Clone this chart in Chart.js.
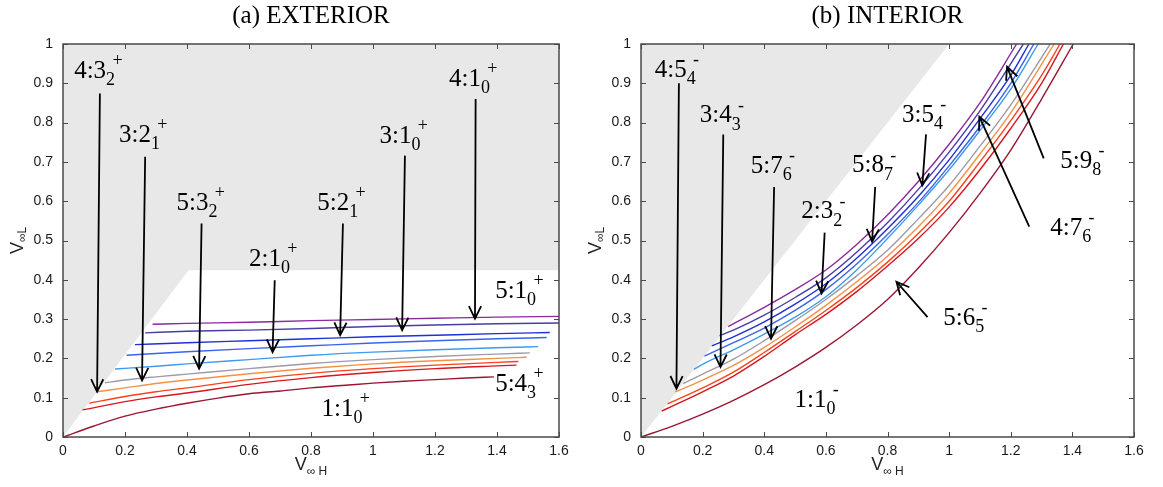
<!DOCTYPE html>
<html>
<head>
<meta charset="utf-8">
<script src="https://cdn.jsdelivr.net/npm/chart.js@4.4.1/dist/chart.umd.min.js"></script>
<style>
  html, body { margin: 0; padding: 0; background: #fff; }
  #wrap { position: relative; width: 1163px; height: 487px; }
  .panel { position: absolute; top: 0; }
</style>
</head>
<body>
<div id="wrap">
  <canvas id="chartExt" class="panel" style="left:0" width="580" height="487"></canvas>
  <canvas id="chartInt" class="panel" style="left:580px" width="583" height="487"></canvas>
</div>
<script>
// colours, top curve (purple) down to 1:1 (dark red)
const curveColors = ['#8a2a9c', '#4a3da8', '#1f2fd6', '#3a64ec', '#3d9bf0',
                     '#9d9aab', '#f39246', '#f8431d', '#d8161f', '#9a1632'];

// (a) exterior, [V∞H, V∞L]
const extPurple = [[0.289,0.287],[0.4,0.289],[0.6,0.292],[0.8,0.296],[1.0,0.299],[1.2,0.302],[1.4,0.305],[1.6,0.307]];
const extNavy   = [[0.265,0.265],[0.4,0.269],[0.6,0.272],[0.8,0.276],[1.0,0.281],[1.2,0.285],[1.4,0.288],[1.6,0.290]];
const extBlue   = [[0.232,0.235],[0.4,0.240],[0.6,0.245],[0.8,0.250],[1.0,0.255],[1.2,0.259],[1.4,0.263],[1.57,0.266]];
const extMid    = [[0.205,0.208],[0.4,0.217],[0.6,0.225],[0.8,0.232],[1.0,0.239],[1.2,0.245],[1.4,0.250],[1.56,0.253]];
const extLight  = [[0.168,0.173],[0.3,0.180],[0.4,0.186],[0.6,0.197],[0.8,0.208],[1.0,0.216],[1.2,0.222],[1.4,0.227],[1.533,0.230]];
const extGray   = [[0.135,0.138],[0.2,0.145],[0.3,0.153],[0.4,0.160],[0.6,0.174],[0.8,0.187],[1.0,0.197],[1.2,0.205],[1.4,0.211],[1.506,0.214]];
const extOrange = [[0.109,0.115],[0.2,0.125],[0.3,0.136],[0.4,0.145],[0.6,0.161],[0.8,0.175],[1.0,0.186],[1.2,0.194],[1.4,0.200],[1.496,0.203]];
const extRedOr  = [[0.085,0.086],[0.2,0.103],[0.3,0.115],[0.4,0.125],[0.6,0.146],[0.8,0.162],[1.0,0.174],[1.2,0.183],[1.4,0.190],[1.469,0.192]];
const extRed    = [[0.063,0.069],[0.2,0.090],[0.3,0.102],[0.4,0.112],[0.6,0.134],[0.8,0.151],[1.0,0.164],[1.2,0.174],[1.4,0.181],[1.463,0.183]];
const extDark   = [[0,0],[0.1,0.028],[0.2,0.053],[0.3,0.071],[0.4,0.086],[0.5,0.099],[0.6,0.110],[0.7,0.117],[0.8,0.125],
                   [0.9,0.131],[1.0,0.137],[1.1,0.142],[1.2,0.146],[1.3,0.150],[1.39,0.153]];
const extShade  = [[0,0],[0.405,0.424],[1.6,0.424]];

// (b) interior
const intPurple = [[0.283,0.281],[0.4,0.330],[0.5,0.375],[0.6,0.425],[0.7,0.490],[0.8,0.565],[0.9,0.650],[1.0,0.745],[1.1,0.850],[1.219,1.0]];
const intNavy   = [[0.255,0.258],[0.3,0.272],[0.4,0.310],[0.5,0.355],[0.6,0.405],[0.7,0.470],[0.8,0.545],[0.9,0.630],[1.0,0.725],[1.1,0.830],[1.241,1.0]];
const intBlue   = [[0.230,0.232],[0.3,0.255],[0.4,0.293],[0.5,0.338],[0.6,0.390],[0.7,0.455],[0.8,0.530],[0.9,0.612],[1.0,0.705],[1.1,0.810],[1.2,0.920],[1.259,1.0]];
const intMid    = [[0.206,0.206],[0.3,0.240],[0.4,0.277],[0.5,0.322],[0.6,0.375],[0.7,0.440],[0.8,0.515],[0.9,0.597],[1.0,0.690],[1.1,0.790],[1.2,0.900],[1.275,1.0]];
const intLight  = [[0.172,0.172],[0.2,0.185],[0.3,0.222],[0.4,0.262],[0.5,0.305],[0.6,0.357],[0.7,0.425],[0.8,0.505],[0.9,0.590],[1.0,0.680],[1.1,0.780],[1.2,0.885],[1.289,1.0]];
const intGray   = [[0.137,0.136],[0.2,0.160],[0.3,0.198],[0.4,0.245],[0.5,0.296],[0.6,0.350],[0.7,0.410],[0.8,0.475],[0.9,0.555],[1.0,0.640],[1.1,0.740],[1.2,0.845],[1.328,1.0]];
const intOrange = [[0.110,0.114],[0.2,0.145],[0.3,0.182],[0.4,0.228],[0.5,0.280],[0.6,0.335],[0.7,0.395],[0.8,0.460],[0.9,0.535],[1.0,0.620],[1.1,0.720],[1.2,0.825],[1.341,1.0]];
const intRedOr  = [[0.086,0.084],[0.2,0.125],[0.3,0.165],[0.4,0.215],[0.5,0.268],[0.6,0.322],[0.7,0.380],[0.8,0.445],[0.9,0.518],[1.0,0.600],[1.1,0.700],[1.2,0.805],[1.3,0.920],[1.36,1.0]];
const intRed    = [[0.067,0.066],[0.1,0.078],[0.2,0.115],[0.3,0.155],[0.4,0.205],[0.5,0.260],[0.6,0.312],[0.7,0.370],[0.8,0.435],[0.9,0.505],[1.0,0.585],[1.1,0.680],[1.2,0.785],[1.3,0.900],[1.371,1.0]];
const intDark   = [[0,0],[0.1,0.027],[0.2,0.058],[0.3,0.093],[0.4,0.133],[0.5,0.178],[0.6,0.228],[0.7,0.285],[0.8,0.350],
                   [0.9,0.430],[1.0,0.520],[1.1,0.620],[1.2,0.730],[1.3,0.860],[1.403,1.0]];
const intShade  = [[0,0],[1.0,1.0]];

// labels: [main, sub, sup, x, y]   arrows: [x1, y1, x2, y2]
const extLabels = [['4:3','2','+',0.036,0.93],['3:2','1','+',0.181,0.768],['5:3','2','+',0.366,0.594],
                   ['2:1','0','+',0.60,0.452],['5:2','1','+',0.82,0.594],['3:1','0','+',1.021,0.766],
                   ['4:1','0','+',1.245,0.911],['5:1','0','+',1.394,0.371],['5:4','3','+',1.394,0.134],
                   ['1:1','0','+',0.834,0.07]];
const extArrows = [[0.119,0.874,0.110,0.115],[0.265,0.713,0.255,0.144],[0.447,0.543,0.439,0.174],
                   [0.683,0.399,0.676,0.216],[0.903,0.543,0.894,0.259],[1.103,0.716,1.094,0.272],
                   [1.331,0.860,1.329,0.301]];
const intLabels = [['4:5','4','-',0.045,0.932],['3:4','3','-',0.191,0.817],['5:7','6','-',0.356,0.688],
                   ['2:3','2','-',0.52,0.573],['5:8','7','-',0.685,0.69],['3:5','4','-',0.847,0.819],
                   ['5:9','8','-',1.361,0.702],['4:7','6','-',1.328,0.53],['5:6','5','-',0.981,0.301],
                   ['1:1','0','-',0.498,0.093]];
const intArrows = [[0.123,0.900,0.115,0.123],[0.267,0.770,0.258,0.178],[0.432,0.636,0.422,0.250],
                   [0.596,0.520,0.586,0.365],[0.760,0.636,0.750,0.497],[0.925,0.770,0.913,0.640],
                   [1.307,0.709,1.188,0.942],[1.260,0.535,1.098,0.815],[0.930,0.305,0.829,0.395]];

const serif = '"Liberation Serif", "Times New Roman", serif';
const sans = '"Liberation Sans", Arial, sans-serif';

function toXY(pts) {
    return pts.map(p => ({x: p[0], y: p[1]}));
}

function buildDatasets(series, shade) {
    let sets = series.map((pts, i) => ({
        data: toXY(pts),
        showLine: true,
        borderColor: curveColors[i],
        borderWidth: 1.4,
        pointRadius: 0,
        cubicInterpolationMode: 'monotone',
        fill: false,
        order: 1
    }));
    sets.push({
        data: toXY(shade),
        showLine: true,
        borderColor: 'rgba(0,0,0,0)',
        borderWidth: 1,
        backgroundColor: '#e8e8e8',
        pointRadius: 0,
        fill: 'end',
        order: 10
    });
    return sets;
}

// box, inward ticks, arrows, labels and titles
const decoPlugin = {
    id: 'deco',
    afterDraw(chart, args, o) {
        const ctx = chart.ctx;
        const a = chart.chartArea;
        const sx = chart.scales.x, sy = chart.scales.y;
        ctx.save();

        ctx.strokeStyle = '#4a4a4a';
        ctx.lineWidth = 1;
        ctx.beginPath();
        sx.ticks.forEach(t => {
            let px = Math.round(sx.getPixelForValue(t.value)) + 0.5;
            ctx.moveTo(px, a.bottom); ctx.lineTo(px, a.bottom - 5);
            ctx.moveTo(px, a.top); ctx.lineTo(px, a.top + 5);
        });
        sy.ticks.forEach(t => {
            let py = Math.round(sy.getPixelForValue(t.value)) + 0.5;
            ctx.moveTo(a.left, py); ctx.lineTo(a.left + 5, py);
            ctx.moveTo(a.right, py); ctx.lineTo(a.right - 5, py);
        });
        ctx.stroke();
        ctx.lineWidth = 1.5;
        ctx.strokeRect(a.left, a.top, a.right - a.left, a.bottom - a.top);

        // arrows
        ctx.strokeStyle = '#000';
        ctx.lineWidth = 1.8;
        o.arrows.forEach(ar => {
            let x1 = sx.getPixelForValue(ar[0]), y1 = sy.getPixelForValue(ar[1]);
            let x2 = sx.getPixelForValue(ar[2]), y2 = sy.getPixelForValue(ar[3]);
            let ang = Math.atan2(y2 - y1, x2 - x1);
            ctx.beginPath();
            ctx.moveTo(x1, y1); ctx.lineTo(x2, y2);
            ctx.moveTo(x2 - 14 * Math.cos(ang - 0.45), y2 - 14 * Math.sin(ang - 0.45));
            ctx.lineTo(x2, y2);
            ctx.lineTo(x2 - 14 * Math.cos(ang + 0.45), y2 - 14 * Math.sin(ang + 0.45));
            ctx.stroke();
        });

        // curve labels
        ctx.fillStyle = '#000';
        ctx.textBaseline = 'middle';
        ctx.textAlign = 'left';
        o.labels.forEach(l => {
            let px = sx.getPixelForValue(l[3]), py = sy.getPixelForValue(l[4]);
            ctx.font = '25px ' + serif;
            ctx.fillText(l[0], px, py);
            let w = ctx.measureText(l[0]).width;
            ctx.font = '18px ' + serif;
            ctx.fillText(l[1], px + w, py + 9);
            let ws = ctx.measureText(l[1]).width;
            ctx.fillText(l[2], px + w + ws * 0.7, py - 10);
        });

        // title
        let cx = (a.left + a.right) / 2;
        ctx.textAlign = 'center';
        ctx.font = '25px ' + serif;
        ctx.fillText(o.title, cx, 16);

        // axis titles V∞H and V∞L
        ctx.textAlign = 'left';
        ctx.fillStyle = '#222';
        ctx.font = '18px ' + sans;
        let wv = ctx.measureText('V').width;
        ctx.font = '12px ' + sans;
        let wh = ctx.measureText('\u221e H').width;
        let x0 = cx - (wv + wh) / 2;
        ctx.font = '18px ' + sans;
        ctx.fillText('V', x0, 465);
        ctx.font = '12px ' + sans;
        ctx.fillText('\u221e H', x0 + wv, 472);

        ctx.translate(a.left - 45, (a.top + a.bottom) / 2);
        ctx.rotate(-Math.PI / 2);
        ctx.font = '12px ' + sans;
        let wl = ctx.measureText('\u221eL').width;
        ctx.font = '18px ' + sans;
        let x1 = -(wv + wl) / 2;
        ctx.fillText('V', x1, 0);
        ctx.font = '12px ' + sans;
        ctx.fillText('\u221eL', x1 + wv, 5);
        ctx.restore();
    }
};

function makeOptions(deco, leftW, padRight) {
    return {
        responsive: false,
        animation: false,
        layout: {padding: {top: 44, right: padRight, bottom: 0, left: 0}},
        plugins: {legend: {display: false}, tooltip: {enabled: false}, deco: deco},
        scales: {
            x: {
                type: 'linear', min: 0, max: 1.6,
                grid: {display: false, drawTicks: false},
                border: {display: false},
                ticks: {stepSize: 0.2, padding: 6, maxRotation: 0, autoSkip: false, color: '#1a1a1a',
                        font: {family: sans, size: 14}, callback: v => +v.toFixed(1)},
                afterFit: s => { s.height = 50; }
            },
            y: {
                type: 'linear', min: 0, max: 1,
                grid: {display: false, drawTicks: false},
                border: {display: false},
                ticks: {stepSize: 0.1, padding: 10, autoSkip: false, color: '#1a1a1a',
                        font: {family: sans, size: 14}, callback: v => +v.toFixed(1)},
                afterFit: s => { s.width = leftW; }
            }
        }
    };
}

new Chart(document.getElementById('chartExt'), {
    type: 'scatter',
    data: {datasets: buildDatasets([extPurple, extNavy, extBlue, extMid, extLight, extGray,
                                    extOrange, extRedOr, extRed, extDark], extShade)},
    options: makeOptions({title: '(a) EXTERIOR', labels: extLabels, arrows: extArrows}, 63, 21),
    plugins: [decoPlugin]
});

new Chart(document.getElementById('chartInt'), {
    type: 'scatter',
    data: {datasets: buildDatasets([intPurple, intNavy, intBlue, intMid, intLight, intGray,
                                    intOrange, intRedOr, intRed, intDark], intShade)},
    options: makeOptions({title: '(b) INTERIOR', labels: intLabels, arrows: intArrows}, 61, 29),
    plugins: [decoPlugin]
});
</script>
</body>
</html>
